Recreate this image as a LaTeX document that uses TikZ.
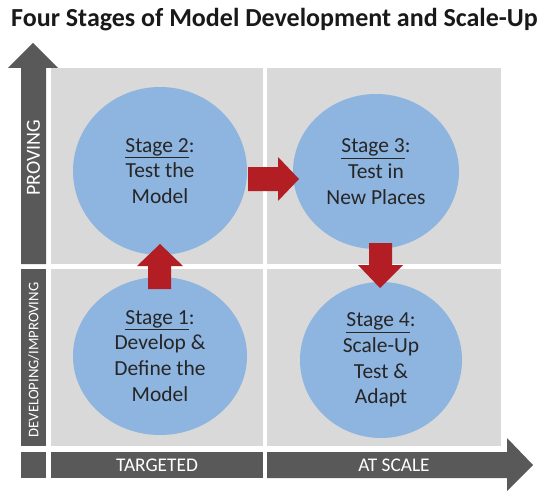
\documentclass[tikz,border=0pt]{standalone}
\usepackage{fontspec}
\setmainfont{Carlito}
\usetikzlibrary{shapes.geometric}
\definecolor{axisgray}{HTML}{595959}
\definecolor{quadgray}{HTML}{D9D9D9}
\definecolor{stageblue}{HTML}{8EB4E0}
\definecolor{flowred}{HTML}{B31D24}
\definecolor{inktext}{HTML}{262626}
\def\pxu{0.75pt}
\begin{document}
\begin{tikzpicture}[x=0.75pt,y=-0.75pt,
  quad/.style={fill=quadgray},
  axisfill/.style={fill=axisgray},
  flowarrow/.style={fill=flowred},
  stage/.style={ellipse, fill=stageblue, inner sep=0pt, text=inktext, align=center,
    font=\fontsize{16.1}{19.35}\selectfont},
  axislabel/.style={text=white, inner sep=0pt}]
\useasboundingbox (0,0) rectangle (542,492);
% title
\node[anchor=base, inner sep=0pt, text=black!90, font=\bfseries\fontsize{19.5}{22}\selectfont] (title) at (274.5,27) {Four Stages of Model Development and Scale-Up};
% quadrants
\fill[quad] (51,68) rectangle (263,264);
\fill[quad] (267,68) rectangle (501,264);
\fill[quad] (51,269) rectangle (263,446);
\fill[quad] (267,269) rectangle (501,446);
% axes
\fill[axisfill] (21,264) -- (21,68) -- (8,68) -- (33,43) -- (58,68) -- (46,68) -- (46,264) -- cycle;
\fill[axisfill] (21,269) rectangle (46,446);
\fill[axisfill] (21,452) rectangle (46,478);
\fill[axisfill] (51,452) rectangle (263,478);
\fill[axisfill] (267,452) -- (507,452) -- (507,438) -- (533,465) -- (507,491) -- (507,478) -- (267,478) -- cycle;
\node[axislabel, rotate=90, font=\fontsize{15}{15}\selectfont] (proving) at (33.5,158) {PROVING};
\node[axislabel, rotate=90, font=\fontsize{11}{11}\selectfont] (developing) at (33.5,360) {DEVELOPING/IMPROVING};
\node[axislabel, font=\fontsize{14.5}{14.5}\selectfont] (targeted) at (157,465) {TARGETED};
\node[axislabel, font=\fontsize{14.5}{14.5}\selectfont] (atscale) at (394,465) {AT SCALE};
% stages
\node[stage, minimum width=174*\pxu, minimum height=168*\pxu] (s2) at (160,171) {\underline{Stage 2}:\\Test the\\Model};
\node[stage, minimum width=166*\pxu, minimum height=155*\pxu] (s3) at (376,171.5) {\underline{Stage 3}:\\Test in\\New Places};
\node[stage, minimum width=174*\pxu, minimum height=158*\pxu] (s1) at (160,356) {\underline{Stage 1}:\\Develop \&\\Define the\\Model};
\node[stage, minimum width=162*\pxu, minimum height=156*\pxu] (s4) at (381,360) {\underline{Stage 4}:\\Scale-Up\\Test \&\\Adapt};
% flow arrows
\fill[flowarrow] (148,289) -- (148,266) -- (137,266) -- (160,244) -- (183,266) -- (171,266) -- (171,289) -- cycle;
\fill[flowarrow] (248,167) -- (278,167) -- (278,157) -- (299,179) -- (278,201) -- (278,191) -- (248,191) -- cycle;
\fill[flowarrow] (369,243) -- (392,243) -- (392,265) -- (403,265) -- (380,288) -- (358,265) -- (369,265) -- cycle;
\end{tikzpicture}
\end{document}
